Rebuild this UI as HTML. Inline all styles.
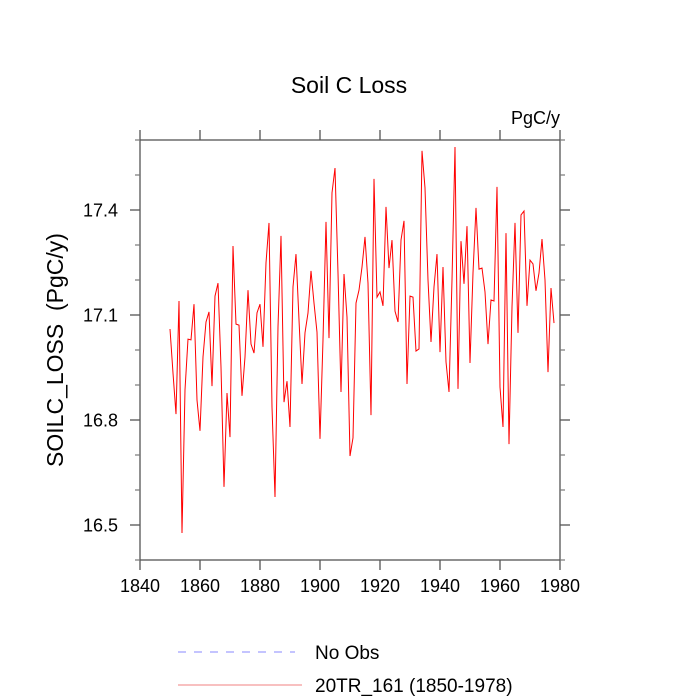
<!DOCTYPE html>
<html><head><meta charset="utf-8"><style>
html,body{margin:0;padding:0;background:#fff;}
svg{display:block;font-family:"Liberation Sans",Arial,sans-serif;}
</style></head><body>
<svg id="chart" width="700" height="700" viewBox="0 0 700 700" xmlns="http://www.w3.org/2000/svg">
<text x="349" y="93" text-anchor="middle" font-size="23">Soil C Loss</text>
<text x="560" y="124" text-anchor="end" font-size="18">PgC/y</text>
<text transform="translate(63,350) rotate(-90)" text-anchor="middle" font-size="23" xml:space="preserve">SOILC_LOSS  (PgC/y)</text>
<g id="axes"></g>
<g id="series"></g>
<g>
<line x1="178" y1="652" x2="295" y2="652" stroke="#8888ff" stroke-width="1" stroke-dasharray="8,8"/>
<text x="315" y="659" font-size="19">No Obs</text>
<line x1="178" y1="685" x2="302" y2="685" stroke="#f08080" stroke-width="1"/>
<text x="315" y="692" font-size="19">20TR_161 (1850-1978)</text>
</g>
</svg>
<script>
const years = [];
for (let y = 1850; y <= 1978; y++) years.push(y);
const soilcLoss = [17.060,16.934,16.817,17.140,16.477,16.886,17.031,17.029,17.131,16.857,
16.769,16.980,17.080,17.109,16.897,17.154,17.191,16.951,16.609,16.877,
16.751,17.297,17.074,17.071,16.869,16.980,17.171,17.017,16.991,17.106,
17.131,17.009,17.249,17.363,16.837,16.580,17.066,17.326,16.851,16.911,
16.780,17.180,17.274,17.086,16.903,17.049,17.106,17.226,17.134,17.051,
16.746,17.029,17.366,17.034,17.449,17.520,17.220,16.880,17.217,17.094,
16.697,16.749,17.134,17.171,17.237,17.323,17.191,16.814,17.489,17.151,
17.166,17.126,17.409,17.234,17.314,17.111,17.080,17.314,17.369,16.903,
17.154,17.151,16.997,17.003,17.569,17.463,17.200,17.023,17.180,17.274,
16.994,17.237,16.966,16.880,17.200,17.580,16.889,17.311,17.189,17.354,
16.963,17.220,17.406,17.231,17.234,17.166,17.017,17.143,17.140,17.466,
16.894,16.780,17.334,16.731,17.123,17.363,17.049,17.386,17.397,17.126,
17.257,17.246,17.169,17.220,17.317,17.200,16.937,17.177,17.077];
const xTicks = [1840,1860,1880,1900,1920,1940,1960,1980];
const yTicks = [16.5,16.8,17.1,17.4];
const yTickLabels = ["16.5","16.8","17.1","17.4"];
const yMinor = [16.4,16.6,16.7,16.9,17.0,17.2,17.3,17.5,17.6];

const L=140,R=560,T=140,B=560;
const xMin=1840,xMax=1980,yMin=16.4,yMax=17.6;
const sx=v=>L+(v-xMin)/(xMax-xMin)*(R-L);
const sy=v=>B-(v-yMin)/(yMax-yMin)*(B-T);
const NS="http://www.w3.org/2000/svg";
const axes=document.getElementById('axes');
function mk(tag,attrs,parent){const e=document.createElementNS(NS,tag);for(const k in attrs)e.setAttribute(k,attrs[k]);parent.appendChild(e);return e;}
const frame=mk('rect',{x:L,y:T,width:R-L,height:B-T,fill:'none',stroke:'#555','stroke-width':1.3},axes);


xTicks.forEach(v=>{
  const x=sx(v);
  const t1=mk('line',{x1:x,y1:B,x2:x,y2:B+10,stroke:'#555','stroke-width':1.3},axes);
  
  
  const t2=mk('line',{x1:x,y1:T,x2:x,y2:T-10,stroke:'#555','stroke-width':1.3},axes);
  
  
  const lb=mk('text',{x:x,y:B+32,'text-anchor':'middle','font-size':18},axes);
  lb.textContent=String(v);
  
  
});
yTicks.forEach((v,i)=>{
  const y=sy(v);
  const t1=mk('line',{x1:L,y1:y,x2:L-10,y2:y,stroke:'#555','stroke-width':1.3},axes);
  
  
  const t2=mk('line',{x1:R,y1:y,x2:R+10,y2:y,stroke:'#555','stroke-width':1.3},axes);
  
  
  const lb=mk('text',{x:L-22,y:y+6.5,'text-anchor':'end','font-size':18},axes);
  lb.textContent=yTickLabels[i];
  
  
});
yMinor.forEach(v=>{
  const y=sy(v);
  const t1=mk('line',{x1:L,y1:y,x2:L-5,y2:y,stroke:'#777','stroke-width':1.2},axes);
  
  
  const t2=mk('line',{x1:R,y1:y,x2:R+5,y2:y,stroke:'#777','stroke-width':1.2},axes);
  
  
});
const pts=years.map((yr,i)=>sx(yr).toFixed(2)+','+sy(soilcLoss[i]).toFixed(2)).join(' ');
const line=mk('polyline',{points:pts,fill:'none',stroke:'#ff0000','stroke-width':1},document.getElementById('series'));


</script>
</body></html>
